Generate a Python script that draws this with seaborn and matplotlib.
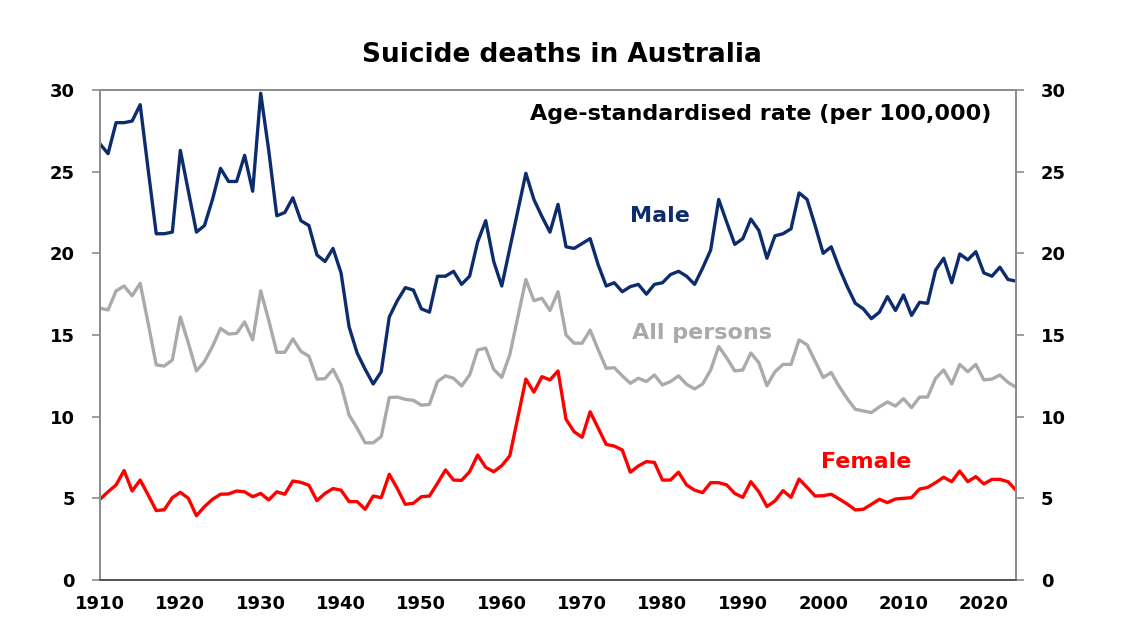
import matplotlib
matplotlib.use('Agg')
import matplotlib.pyplot as plt
import numpy as np
import pandas as pd
import seaborn as sns

# data (age-standardised rate per 100,000)
years = list(range(1910, 2025))

male = [26.7, 26.1, 28.0, 28.0, 28.1, 29.1, 25.1, 21.2, 21.2, 21.3,
        26.3, 23.8, 21.3, 21.7, 23.3, 25.2, 24.4, 24.4, 26.0, 23.8,
        29.8, 26.3, 22.3, 22.5, 23.4, 22.0, 21.7, 19.9, 19.5, 20.3,
        18.8, 15.5, 13.9, 12.9, 12.0, 12.75, 16.1, 17.1, 17.9, 17.75,
        16.6, 16.4, 18.6, 18.6, 18.9, 18.1, 18.6, 20.7, 22.0, 19.5,
        18.0, 20.3, 22.6, 24.9, 23.3, 22.25, 21.3, 23.0, 20.4, 20.3,
        20.6, 20.9, 19.3, 18.0, 18.2, 17.65, 17.96, 18.1, 17.5, 18.1,
        18.2, 18.7, 18.9, 18.6, 18.1, 19.1, 20.2, 23.3, 21.9, 20.55,
        20.9, 22.1, 21.4, 19.7, 21.07, 21.2, 21.5, 23.7, 23.3, 21.7,
        20.0, 20.4, 19.1, 17.96, 16.94, 16.6, 16.0, 16.4, 17.35, 16.5,
        17.45, 16.2, 17.0, 16.94, 18.98, 19.7, 18.2, 19.96, 19.6, 20.1,
        18.8, 18.6, 19.15, 18.4, 18.3]

persons = [16.64, 16.53, 17.7, 18.0, 17.4, 18.17, 15.7, 13.17, 13.1, 13.47,
           16.1, 14.5, 12.8, 13.37, 14.3, 15.4, 15.06, 15.1, 15.8, 14.7,
           17.7, 15.9, 13.94, 13.94, 14.76, 14.0, 13.7, 12.3, 12.33, 12.9,
           11.94, 10.1, 9.3, 8.4, 8.4, 8.78, 11.17, 11.2, 11.06, 11.0,
           10.7, 10.75, 12.15, 12.5, 12.35, 11.88, 12.55, 14.08, 14.2, 12.9,
           12.4, 13.8, 16.1, 18.4, 17.1, 17.25, 16.5, 17.65, 15.0, 14.5,
           14.5, 15.3, 14.1, 12.96, 13.0, 12.5, 12.04, 12.35, 12.15, 12.55,
           11.94, 12.15, 12.5, 11.98, 11.7, 12.0, 12.86, 14.3, 13.6, 12.8,
           12.86, 13.9, 13.3, 11.9, 12.75, 13.2, 13.2, 14.7, 14.4, 13.4,
           12.4, 12.7, 11.84, 11.1, 10.45, 10.35, 10.25, 10.6, 10.9, 10.65,
           11.1, 10.55, 11.2, 11.2, 12.35, 12.86, 12.0, 13.2, 12.75, 13.2,
           12.25, 12.3, 12.55, 12.1, 11.8]

female = [4.94, 5.4, 5.82, 6.7, 5.45, 6.12, 5.2, 4.25, 4.3, 5.04,
          5.37, 5.0, 3.94, 4.49, 4.94, 5.25, 5.27, 5.45, 5.4, 5.1,
          5.3, 4.9, 5.4, 5.25, 6.06, 5.98, 5.8, 4.86, 5.3, 5.6,
          5.5, 4.8, 4.8, 4.33, 5.14, 5.04, 6.47, 5.6, 4.63, 4.7,
          5.1, 5.14, 5.92, 6.74, 6.12, 6.1, 6.63, 7.65, 6.9, 6.63,
          7.0, 7.6, 9.95, 12.3, 11.5, 12.45, 12.25, 12.8, 9.84, 9.08,
          8.74, 10.3, 9.3, 8.3, 8.2, 7.96, 6.6, 6.98, 7.25, 7.2,
          6.12, 6.12, 6.6, 5.82, 5.5, 5.35, 5.96, 5.96, 5.82, 5.3,
          5.06, 6.02, 5.4, 4.5, 4.84, 5.47, 5.06, 6.18, 5.67, 5.14,
          5.16, 5.25, 4.96, 4.65, 4.29, 4.33, 4.63, 4.94, 4.74, 4.96,
          5.0, 5.04, 5.57, 5.67, 5.96, 6.29, 6.02, 6.67, 6.02, 6.33,
          5.88, 6.16, 6.16, 6.02, 5.5]

series_names = ['Male', 'All persons', 'Female']
colors = {'Male': '#0c2c6e', 'All persons': '#aaaaaa', 'Female': '#ff0000'}
y_ticks = [0, 5, 10, 15, 20, 25, 30]
x_ticks = list(range(1910, 2021, 10))

df = pd.DataFrame({'year': years, 'Male': male,
                   'All persons': persons, 'Female': female})
long = df.melt(id_vars='year', var_name='series', value_name='rate')

sns.set_style('white')
plt.rcParams['font.family'] = ['DejaVu Sans']
plt.rcParams['font.weight'] = 'bold'
plt.rcParams['text.color'] = 'black'
plt.rcParams['xtick.color'] = '#8c8c8c'
plt.rcParams['ytick.color'] = '#8c8c8c'
plt.rcParams['xtick.labelcolor'] = 'black'
plt.rcParams['ytick.labelcolor'] = 'black'

fig = plt.figure(figsize=(11.23, 6.41), dpi=100)
ax = fig.add_axes([100 / 1123, 1 - 580 / 641, 916 / 1123, 490 / 641])

sns.lineplot(data=long, x='year', y='rate', hue='series',
             hue_order=series_names, palette=colors, linewidth=2.4,
             legend=False, ax=ax)

ax.set_xlim(1910, 2024)
ax.set_ylim(0, 30)
ax.set_xticks(x_ticks)
ax.set_yticks(y_ticks)
ax.set_xlabel('')
ax.set_ylabel('')

ax2 = ax.twinx()
ax2.set_ylim(0, 30)
ax2.set_yticks(y_ticks)

for a in (ax, ax2):
    for s in a.spines.values():
        s.set_color('#8c8c8c')
        s.set_linewidth(1.3)
    a.spines['bottom'].set_color('#555555')

ax.tick_params(axis='y', direction='out', length=6, width=1.2,
               labelsize=13, pad=12)
ax.tick_params(axis='x', direction='out', length=6, width=1.2,
               labelsize=13, pad=5)
ax2.tick_params(axis='y', direction='out', length=6, width=1.2,
                labelsize=13, pad=12)
for lab in ax.get_xticklabels() + ax.get_yticklabels() + ax2.get_yticklabels():
    lab.set_fontweight('bold')

fig.text(0.5, 1 - 55 / 641, 'Suicide deaths in Australia',
         ha='center', va='center', fontsize=19, fontweight='bold')
ax.text(0.973, 0.95, 'Age-standardised rate (per 100,000)',
        transform=ax.transAxes, ha='right', va='center',
        fontsize=16, fontweight='bold')

ax.text(1979.7, 22.3, 'Male', color=colors['Male'],
        fontsize=16, fontweight='bold', ha='center', va='center')
ax.text(1984.9, 15.1, 'All persons', color=colors['All persons'],
        fontsize=16, fontweight='bold', ha='center', va='center')
ax.text(2005.3, 7.2, 'Female', color=colors['Female'],
        fontsize=16, fontweight='bold', ha='center', va='center')

fig.savefig('out.png', dpi=100)
